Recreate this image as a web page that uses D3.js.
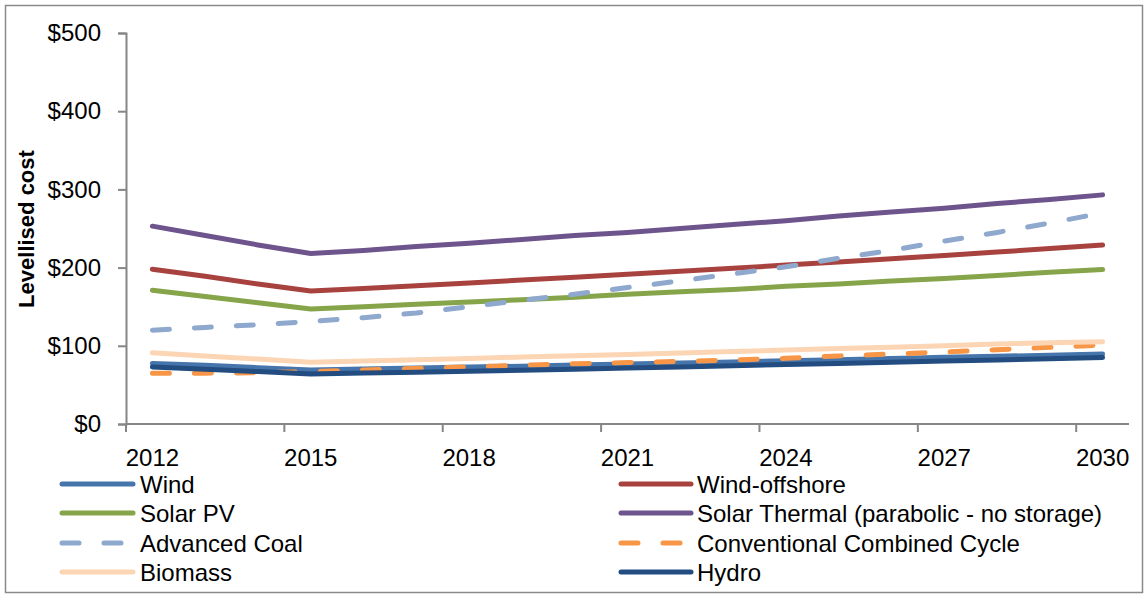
<!DOCTYPE html>
<html>
<head>
<meta charset="utf-8">
<script src="https://cdn.jsdelivr.net/npm/d3@7/dist/d3.min.js"></script>
<style>
  html, body { margin: 0; padding: 0; background: #fff; }
  svg { display: block; }
  text { font-family: "Liberation Sans", Arial, sans-serif; fill: #000; }
</style>
</head>
<body>
<svg id="chart" width="1148" height="598"></svg>
<script>
// Levelised cost of electricity by technology, 2012–2030
const years = [2012, 2013, 2014, 2015, 2016, 2017, 2018, 2019, 2020, 2021,
               2022, 2023, 2024, 2025, 2026, 2027, 2028, 2029, 2030];

const wind         = [77.5, 75, 72, 69, 70.2, 71.5, 72.8, 74, 75.3, 76.6, 78, 79.4, 80.8, 82.2, 83.7, 85.2, 86.6, 88, 89.5];
const windOffshore = [198, 189, 179, 170, 173.4, 176.9, 180.4, 184, 187.7, 191.4, 195.3, 199.2, 203.2, 207.2, 211.4, 215.6, 219.9, 224.3, 228.8];
const solarPV      = [171, 163, 155, 147, 150, 153, 156, 159, 162, 166, 169, 172, 176, 179, 183, 186, 190, 194, 197.5];
const solarThermal = [253, 241, 229, 218, 222, 227, 231, 236, 241, 245, 250, 255, 260, 266, 271, 276, 282, 287, 293];
const advancedCoal = [120, 123.5, 127, 131, 136, 142, 150, 158, 166, 174.5, 183, 192, 201, 212, 222, 234, 245, 257, 270];
const combinedCycle= [65, 65, 65.5, 67, 69, 71, 73, 75, 77, 78.5, 80, 82, 84, 87, 89.5, 92, 95, 98, 101];
const biomass      = [91, 87, 83, 79, 80.6, 82.2, 83.9, 85.6, 87.3, 89, 90.8, 92.6, 94.5, 96.4, 98.3, 100.2, 102.2, 104, 105.2];
const hydro        = [73, 70, 67, 64, 65.1, 66.3, 67.5, 68.8, 70, 71.5, 73, 74.5, 76, 77.5, 79, 80.5, 82, 83.5, 85];

const seriesNames = ["Wind", "Wind-offshore", "Solar PV", "Solar Thermal (parabolic - no storage)",
                     "Advanced Coal", "Conventional Combined Cycle", "Biomass", "Hydro"];
const seriesValues = [wind, windOffshore, solarPV, solarThermal, advancedCoal, combinedCycle, biomass, hydro];
const seriesColors = ["#4675AB", "#A8423F", "#86A44A", "#6E548D", "#8EA8CE", "#F79646", "#FCD5B4", "#234C80"];
const seriesDashed = [false, false, false, false, true, true, false, false];

const yTicks = [0, 100, 200, 300, 400, 500];
const xTickYears = [2012, 2015, 2018, 2021, 2024, 2027, 2030];
const yTitle = "Levellised cost";

const svg = d3.select("#chart");
const axisColor = "#868686";
const fontSize = 24;

// outer frame
svg.append("rect")
  .attr("x", 5.5).attr("y", 5.5)
  .attr("width", 1137).attr("height", 587)
  .attr("fill", "none").attr("stroke", "#8a8a8a").attr("stroke-width", 1.5);

const plot = { left: 126, right: 1129, top: 33, bottom: 424 };

const x = d3.scaleBand().domain(years).range([plot.left, plot.right]).padding(0);
const y = d3.scaleLinear().domain([0, 500]).range([plot.bottom, plot.top]);
const cx = yr => x(yr) + x.bandwidth() / 2;

// y axis
const yAxis = svg.append("g").attr("transform", `translate(${plot.left},0)`)
  .call(d3.axisLeft(y).tickValues(yTicks).tickSize(8).tickPadding(17)
        .tickFormat(d => "$" + d));
yAxis.select(".domain").attr("stroke", axisColor).attr("stroke-width", 2);
yAxis.selectAll(".tick line").attr("stroke", axisColor).attr("stroke-width", 2);
yAxis.selectAll(".tick text")
  .attr("font-size", fontSize).attr("font-family", "Liberation Sans, Arial, sans-serif")
  .attr("fill", "#000");

// x axis: tick marks on category boundaries, labels at category centres
const xg = svg.append("g");
xg.append("line")
  .attr("x1", plot.left).attr("x2", plot.right)
  .attr("y1", plot.bottom).attr("y2", plot.bottom)
  .attr("stroke", axisColor).attr("stroke-width", 2);
xg.selectAll("line.tick").data(xTickYears).enter().append("line")
  .attr("class", "tick")
  .attr("x1", d => x(d)).attr("x2", d => x(d))
  .attr("y1", plot.bottom).attr("y2", plot.bottom + 8)
  .attr("stroke", axisColor).attr("stroke-width", 2);
xg.selectAll("text").data(xTickYears).enter().append("text")
  .attr("x", d => cx(d)).attr("y", 466)
  .attr("text-anchor", "middle").attr("font-size", fontSize)
  .text(d => d);

// y axis title
svg.append("text")
  .attr("transform", "translate(34,229) rotate(-90)")
  .attr("text-anchor", "middle").attr("font-size", 22).attr("font-weight", "bold")
  .text(yTitle);

// series lines
const line = d3.line().x((d, i) => cx(years[i])).y(d => y(d));
seriesValues.forEach((vals, i) => {
  svg.append("path")
    .attr("d", line(vals))
    .attr("fill", "none")
    .attr("stroke", seriesColors[i])
    .attr("stroke-width", 5)
    .attr("stroke-linecap", "round")
    .attr("stroke-linejoin", "round")
    .attr("stroke-dasharray", seriesDashed[i] ? "17,25" : null);
});

// legend: two columns, row-major order
const legendRows = [484, 513, 543, 572];
const legendCols = [{ x0: 62, x1: 133, tx: 140 }, { x0: 621, x1: 691, tx: 697 }];
seriesNames.forEach((name, i) => {
  const col = legendCols[i % 2];
  const ry = legendRows[Math.floor(i / 2)];
  const g = svg.append("g");
  g.append("line")
    .attr("x1", col.x0).attr("x2", col.x1).attr("y1", ry).attr("y2", ry)
    .attr("stroke", seriesColors[i]).attr("stroke-width", 5)
    .attr("stroke-linecap", "round")
    .attr("stroke-dasharray", seriesDashed[i] ? "17,25" : null);
  g.append("text")
    .attr("x", col.tx).attr("y", ry + 8.5)
    .attr("font-size", fontSize)
    .text(name);
});
</script>
</body>
</html>
